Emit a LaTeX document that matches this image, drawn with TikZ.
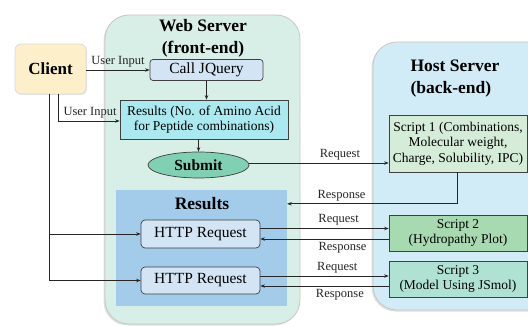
\documentclass[tikz,border=0pt]{standalone}
\usepackage{fontspec}
\setmainfont{Liberation Serif}
\usetikzlibrary{arrows.meta,shapes.geometric,shadows}
\definecolor{clientc}{HTML}{FDEFC9}
\definecolor{webc}{HTML}{D8EFE8}
\definecolor{hostc}{HTML}{D2ECF7}
\definecolor{queryc}{HTML}{D3E5F5}
\definecolor{resboxc}{HTML}{A9E9EF}
\definecolor{submitc}{HTML}{80D0B3}
\definecolor{respanc}{HTML}{A3CBEA}
\definecolor{scriptac}{HTML}{D5ECD9}
\definecolor{scriptbc}{HTML}{A8DAB1}
\definecolor{scriptcc}{HTML}{AFE2D3}

\begin{document}
\begin{tikzpicture}[x=1pt,y=-1pt,
  panel/.style={draw=gray!45,line width=0.8pt,rounded corners=24pt,inner sep=0pt,
    drop shadow={shadow xshift=-1.5pt,shadow yshift=-1.5pt,opacity=0.25}},
  box/.style={draw=black!75,line width=0.7pt,inner sep=0pt,font=\fontsize{13.5}{15.5}\selectfont},
  big/.style={font=\fontsize{15.5}{18}\selectfont},
  title/.style={font=\fontsize{17.5}{22}\selectfont\bfseries,inner sep=0pt},
  lbl/.style={font=\fontsize{12.5}{14}\selectfont,inner sep=2.5pt},
  conn/.style={-{Stealth[length=4.5pt,width=3.5pt]},line width=0.7pt,black!85}]
\clip (0,0) rectangle (528,326);
\node[panel,fill=webc,minimum width=195pt,minimum height=309pt] (web) at (202.5,169.5) {};
\node[panel,fill=hostc,minimum width=190pt,minimum height=268pt] (host) at (468,176) {};
\node[title,align=center] (webtitle) at (203,38) {Web Server\\(front-end)};
\node[title,align=left] (hosttitle) at (455,79) {Host Server\\(back-end)};
\node[box,draw=gray!30,rounded corners=6pt,fill=clientc,minimum width=71pt,minimum height=50pt,
  drop shadow={shadow xshift=1pt,shadow yshift=-1pt,opacity=0.2},font=\fontsize{17}{20}\selectfont\bfseries] (client) at (50.5,69) {Client};
\node[box,big,rounded corners=3pt,fill=queryc,minimum width=113pt,minimum height=21pt] (jquery) at (206.5,70) {Call JQuery};
\node[box,align=center,fill=resboxc,minimum width=168pt,minimum height=39pt] (resbox) at (204,119.5) {Results (No. of Amino Acid\\for Peptide combinations)};
\node[box,ellipse,fill=submitc,minimum width=101pt,minimum height=26pt,font=\fontsize{15.5}{18}\selectfont\bfseries] (submit) at (198.5,165) {Submit};
\node[fill=respanc,minimum width=171pt,minimum height=116pt,inner sep=0pt] (respanel) at (201.5,248) {};
\node[title] (restitle) at (202,204) {Results};
\node[box,big,rounded corners=4pt,fill=queryc,minimum width=119pt,minimum height=28pt] (http1) at (200.5,234) {HTTP Request};
\node[box,big,rounded corners=4pt,fill=queryc,minimum width=119pt,minimum height=27pt] (http2) at (200.5,280.5) {HTTP Request};
\node[box,align=center,fill=scriptac,minimum width=138pt,minimum height=57pt] (script1) at (458,143.5) {Script 1 (Combinations,\\Molecular weight,\\Charge, Solubility, IPC)};
\node[box,align=center,fill=scriptbc,minimum width=138pt,minimum height=36pt] (script2) at (458,233) {Script 2\\(Hydropathy Plot)};
\node[box,align=center,fill=scriptcc,minimum width=138pt,minimum height=36pt] (script3) at (458,279) {Script 3\\(Model Using JSmol)};
% front-end flow
\draw[conn] (client.east |- jquery.west)--(jquery.west) node[lbl,midway,above]{User Input};
\draw[conn] (jquery.south)--(jquery.south |- resbox.north);
\draw[conn] ([xshift=7.5pt]client.south) |- ([yshift=-1.5pt]resbox.west) node[lbl,pos=0.76,above]{User Input};
\draw[conn] (resbox.south -| submit.north)--(submit.north);
% back-end calls
\draw[conn] ([yshift=2pt]submit.east)--([yshift=2pt]submit.east -| script1.west) node[lbl,pos=0.65,above]{Request};
\draw[conn] ([xshift=-1pt]script1.south) |- ([yshift=-14pt]respanel.north east) node[lbl,pos=0.84,above]{Response};
\draw[conn] ([xshift=-1.5pt]client.south) |- (http1.west);
\draw[conn] ([xshift=-1.5pt]client.south) |- (http2.west);
\draw[conn] ([yshift=5.5pt]http1.east)--([yshift=5.5pt]http1.east -| script2.west) node[lbl,pos=0.61,above]{Request};
\draw[conn] ([yshift=-5pt]http1.east -| script2.west)--([yshift=-5pt]http1.east) node[lbl,pos=0.36,below]{Response};
\draw[conn] ([yshift=4.5pt]http2.east)--([yshift=4.5pt]http2.east -| script3.west) node[lbl,pos=0.6,above]{Request};
\draw[conn] ([yshift=-5.5pt]http2.east -| script3.west)--([yshift=-5.5pt]http2.east) node[lbl,pos=0.38,below]{Response};
\end{tikzpicture}
\end{document}
